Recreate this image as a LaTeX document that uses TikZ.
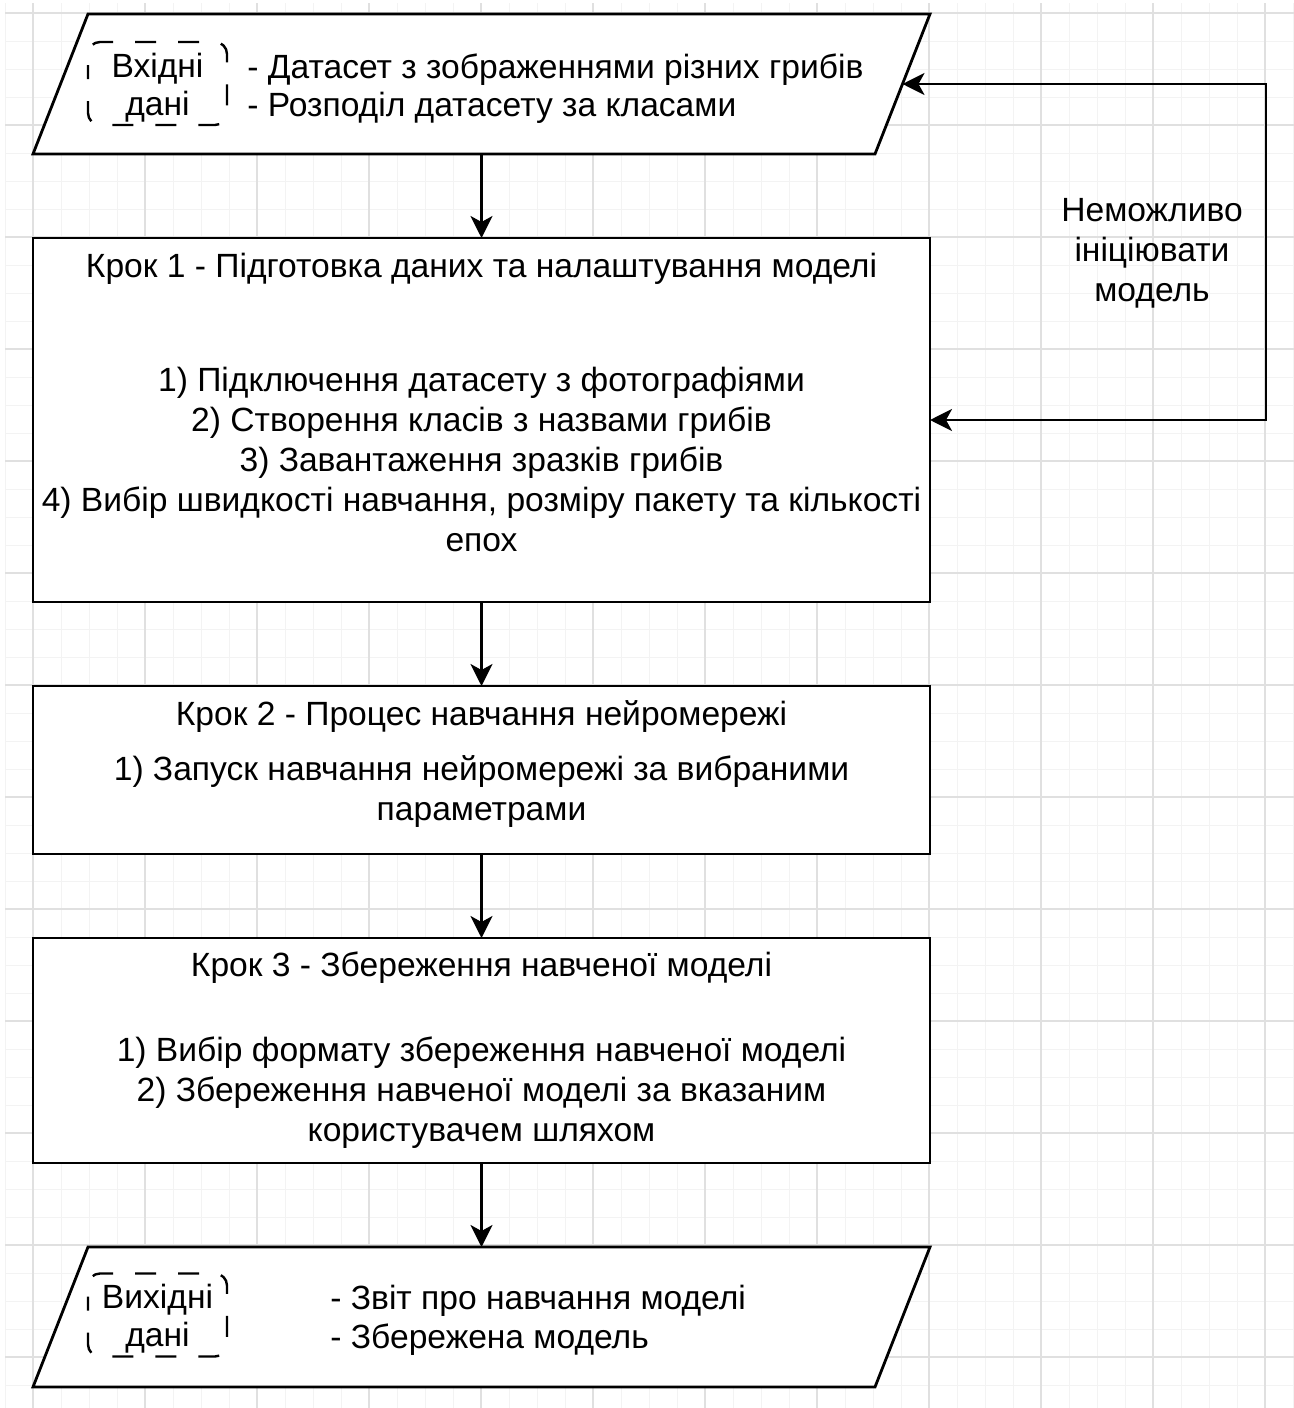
\documentclass[tikz,border=0pt]{standalone}
\usepackage{fontspec}
\setmainfont{Liberation Sans}
\usetikzlibrary{arrows.meta, positioning}
\definecolor{gridmajor}{RGB}{224,224,224}
\definecolor{gridminor}{RGB}{243,243,243}

\begin{document}
\begin{tikzpicture}[
  x=0.5pt, y=-0.5pt,
  node distance  = 42pt,
  stepbox/.style = {rectangle, draw=black, line width=1.4pt, fill=white,
                    minimum width=448.5pt, inner sep=0pt, outer sep=0pt},
  databox/.style = {rectangle, minimum width=448.5pt, minimum height=70pt,
                    inner sep=0pt, outer sep=0pt},
  slant/.style   = {draw=black, line width=1.4pt, fill=white, line join=miter},
  tagbox/.style  = {rectangle, minimum width=69.5pt, minimum height=41.5pt,
                    align=center, inner sep=0pt, outer sep=0pt,
                    font=\fontsize{16.8}{19}\selectfont},
  tagline/.style = {draw=black, line width=1.2pt, rounded corners=6pt,
                    dash pattern=on 10.5pt off 11pt, dash phase=7.3pt},
  txt/.style     = {font=\fontsize{16.8}{20}\selectfont, align=center, inner sep=0pt},
  arrow/.style   = {line width=1.4pt, -{Stealth[length=11pt, width=11pt, inset=3pt]}},
  twoway/.style  = {line width=1.4pt, {Stealth[length=11pt, width=11pt, inset=3pt]}-{Stealth[length=11pt, width=11pt, inset=3pt]}}
]
\useasboundingbox (0,0) rectangle (1294,1408);
\fill[white] (0,0) rectangle (1294,1408);

% background grid
\foreach \gx in {5,33,...,1294} \draw[gridminor, line width=0.5pt] (\gx,3) -- (\gx,1408);
\foreach \gy in {13,41,...,1408} \draw[gridminor, line width=0.5pt] (5,\gy) -- (1294,\gy);
\foreach \gx in {33,145,...,1294} \draw[gridmajor, line width=0.6pt] (\gx,3) -- (\gx,1408);
\foreach \gy in {13,125,...,1408} \draw[gridmajor, line width=0.6pt] (5,\gy) -- (1294,\gy);

% main flow
\node[databox] (inp) at (481.5,84) {};
\node[stepbox, minimum height=182pt, below=of inp] (k1) {};
\node[stepbox, minimum height=84pt, below=of k1]   (k2) {};
\node[stepbox, minimum height=112.5pt, below=of k2] (k3) {};
\node[databox, below=of k3] (out) {};

% parallelograms for data in / out
\foreach \d in {inp,out}
  \draw[slant] (\d.south west) -- ([xshift=27.5pt]\d.north west) -- (\d.north east)
    -- ([xshift=-27.5pt]\d.south east) -- cycle;

\draw[arrow] (inp) -- (k1);
\draw[arrow] (k1) -- (k2);
\draw[arrow] (k2) -- (k3);
\draw[arrow] (k3) -- (out);

% input data
\node[tagbox] (inptag) at ([xshift=-162pt, yshift=-1.75pt]inp.center) {Вхідні\\дані};
\node[txt, anchor=west, align=left, font=\fontsize{16.8}{19}\selectfont] (inplist)
  at ([xshift=-117.25pt, yshift=-2.5pt]inp.center)
  {- Датасет з зображеннями різних грибів\\- Розподіл датасету за класами};

% step 1
\node[txt] (k1title) at ([yshift=-15.5pt]k1.north) {Крок 1 - Підготовка даних та налаштування моделі};
\node[txt] (k1list) at ([yshift=-110.5pt]k1.north)
  {1) Підключення датасету з фотографіями\\
   2) Створення класів з назвами грибів\\
   3) Завантаження зразків грибів\\
   4) Вибір швидкості навчання, розміру пакету та кількості\\
   епох};

% step 2
\node[txt] (k2title) at ([yshift=-15.5pt]k2.north) {Крок 2 - Процес навчання нейромережі};
\node[txt] (k2list) at ([yshift=-52.75pt]k2.north)
  {1) Запуск навчання нейромережі за вибраними\\параметрами};

% step 3
\node[txt] (k3title) at ([yshift=-15pt]k3.north) {Крок 3 - Збереження навченої моделі};
\node[txt] (k3list) at ([yshift=-77.5pt]k3.north)
  {1) Вибір формату збереження навченої моделі\\
   2) Збереження навченої моделі за вказаним\\
   користувачем шляхом};

% output data
\node[tagbox] (outtag) at ([xshift=-162pt, yshift=-1pt]out.center) {Вихідні\\дані};
\node[txt, anchor=west, align=left, font=\fontsize{16.8}{19.5}\selectfont] (outlist)
  at ([xshift=-75.75pt, yshift=-1.75pt]out.center)
  {- Звіт про навчання моделі\\- Збережена модель};

% dashed frames round the tags
\foreach \t in {inptag,outtag}
  \draw[tagline] ([yshift=2pt]\t.west) |- ([yshift=2pt]\t.north east)
    |- ([yshift=2pt]\t.south west) -- cycle;

% feedback loop
\coordinate (inpedge) at ([xshift=-13.75pt]inp.east);
\coordinate[right=168pt of inp.east] (fbk);
\draw[twoway] (inpedge) -- (fbk) |- (k1.east);
\node[txt] (fail) at (1152,253) {Неможливо\\ініціювати\\модель};

\end{tikzpicture}
\end{document}
